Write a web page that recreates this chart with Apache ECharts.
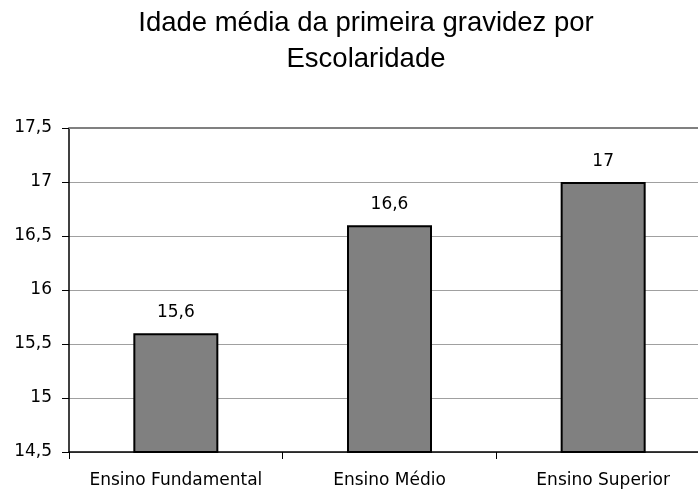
<!DOCTYPE html>
<html><head><meta charset="utf-8">
<script src="https://cdn.jsdelivr.net/npm/echarts@6/dist/echarts.min.js"></script>
<style>html,body{margin:0;padding:0;background:#fff}#c{width:698px;height:495px}</style>
</head><body><div id="c"></div>
<script>
const categories = ['Ensino Fundamental', 'Ensino Médio', 'Ensino Superior'];
const values = [15.6, 16.6, 17];
const yTicks = [14.5, 15, 15.5, 16, 16.5, 17, 17.5];
const titleText = 'Idade média da primeira gravidez por\nEscolaridade';

const fmt = v => String(v).replace('.', ',');
const chart = echarts.init(document.getElementById('c'), null, {renderer: 'canvas'});
chart.setOption({
  animation: false,
  backgroundColor: '#fff',
  title: {
    text: titleText, left: 361, top: 0, textAlign: 'center',
    textStyle: {fontFamily: 'Liberation Sans', fontSize: 27.5, fontWeight: 'normal', color: '#000', lineHeight: 36}
  },
  grid: {left: 69, top: 128, width: 641, height: 324, containLabel: false, outerBoundsMode: 'none'},
  xAxis: {
    type: 'category', data: categories,
    axisLine: {lineStyle: {color: '#000', width: 1.5}},
    axisTick: {show: true, interval: 0, length: 7, lineStyle: {color: '#000'}},
    axisLabel: {interval: 0, hideOverlap: false, fontFamily: 'DejaVu Sans', fontSize: 17, color: '#000', margin: 20}
  },
  yAxis: {
    type: 'value', min: yTicks[0], max: yTicks[yTicks.length - 1], interval: 0.5,
    axisLine: {show: true, lineStyle: {color: '#000', width: 1.5}},
    axisTick: {show: true, length: 7, lineStyle: {color: '#000'}},
    axisLabel: {fontFamily: 'DejaVu Sans', fontSize: 17, color: '#000', margin: 17, formatter: fmt},
    splitLine: {lineStyle: {color: '#a0a0a0', width: 1}}
  },
  series: [{
    type: 'bar', data: values, barWidth: 85,
    itemStyle: {color: '#808080', borderColor: '#000', borderWidth: 2},
    label: {show: true, position: 'top', distance: 12, formatter: p => fmt(p.value),
      fontFamily: 'DejaVu Sans', fontSize: 17, color: '#000'}
  }],
  graphic: [{
    type: 'line', shape: {x1: 69, y1: 128, x2: 698, y2: 128},
    style: {stroke: '#808080', lineWidth: 2}, z: 10
  }]
});
</script></body></html>
